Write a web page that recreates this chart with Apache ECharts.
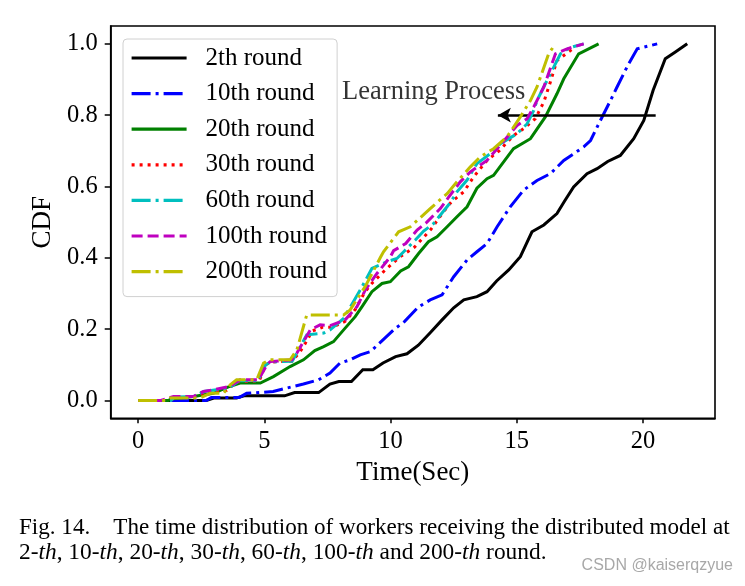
<!DOCTYPE html>
<html>
<head>
<meta charset="utf-8">
<script src="https://cdn.jsdelivr.net/npm/echarts@6/dist/echarts.min.js"></script>
<style>
html,body{margin:0;padding:0;background:#fff;}
#chart{width:745px;height:586px;}
</style>
</head>
<body>
<div id="chart"></div>
<script>
// ---------- data ----------
const seriesNames = ['2th round','10th round','20th round','30th round','60th round','100th round','200th round'];
const xTicks = [0,5,10,15,20];
const yTicks = [0,0.2,0.4,0.6,0.8,1.0];

const round2 = [[0,0],[2.7,0],[3.0,0.007],[3.9,0.007],[4.2,0.013],[5.8,0.013],[6.2,0.022],[7.15,0.022],[7.6,0.046],[7.95,0.053],[8.45,0.053],[8.9,0.086],[9.3,0.086],[9.7,0.105],[10.2,0.123],[10.65,0.131],[11.1,0.155],[11.57,0.19],[12.04,0.226],[12.5,0.26],[12.9,0.282],[13.42,0.291],[13.82,0.305],[14.2,0.335],[14.68,0.366],[15.14,0.403],[15.6,0.473],[16.07,0.492],[16.59,0.524],[16.9,0.56],[17.25,0.599],[17.78,0.636],[18.18,0.65],[18.6,0.67],[19.1,0.687],[19.63,0.734],[20.03,0.785],[20.4,0.87],[20.88,0.958],[21.28,0.977],[21.75,1.0]];
const round10 = [[0,0],[2.7,0],[2.9,0.008],[4.0,0.008],[4.3,0.02],[5.35,0.025],[5.9,0.035],[6.55,0.046],[7.15,0.058],[7.6,0.077],[8.0,0.105],[8.4,0.114],[8.8,0.128],[9.2,0.137],[9.7,0.17],[10.15,0.2],[10.55,0.221],[11.1,0.262],[11.57,0.282],[12.04,0.296],[12.5,0.347],[13.03,0.394],[13.42,0.417],[13.82,0.44],[14.22,0.487],[14.74,0.543],[15.27,0.59],[15.8,0.617],[16.33,0.636],[16.86,0.673],[17.65,0.711],[17.92,0.729],[18.31,0.785],[18.71,0.841],[18.97,0.879],[19.4,0.94],[19.77,0.986],[20.56,1.0]];
const round20 = [[0,0],[1.2,0],[1.3,0.004],[2.2,0.011],[2.98,0.02],[3.65,0.04],[4.04,0.049],[4.84,0.049],[5.36,0.067],[6.02,0.095],[6.55,0.114],[7.0,0.14],[7.35,0.151],[7.74,0.165],[8.14,0.198],[8.6,0.235],[8.87,0.263],[9.26,0.305],[9.66,0.328],[9.99,0.333],[10.4,0.363],[10.71,0.375],[11.11,0.412],[11.5,0.445],[11.84,0.459],[12.24,0.487],[12.63,0.515],[13.03,0.543],[13.42,0.595],[13.82,0.622],[14.08,0.631],[14.87,0.706],[15.54,0.734],[16.13,0.795],[16.59,0.86],[16.86,0.902],[17.45,0.972],[18.24,1.0]];
const round30 = [[0,0],[1.3,0],[1.45,0.008],[2.3,0.01],[2.6,0.022],[3.5,0.028],[3.9,0.052],[4.8,0.055],[5.05,0.1],[5.3,0.108],[6.1,0.11],[6.4,0.135],[6.62,0.16],[6.9,0.195],[7.3,0.205],[7.7,0.205],[8.2,0.222],[8.6,0.255],[8.95,0.3],[9.2,0.324],[9.79,0.366],[10.38,0.403],[10.95,0.43],[11.6,0.48],[12.0,0.52],[12.4,0.556],[12.9,0.585],[13.29,0.627],[13.82,0.673],[14.3,0.7],[14.87,0.743],[15.27,0.762],[15.73,0.79],[16.07,0.837],[16.33,0.893],[16.59,0.953],[17.12,0.981],[17.3,0.99]];
const round60 = [[0,0],[1.3,0],[1.45,0.01],[2.2,0.011],[2.6,0.025],[3.6,0.035],[4.0,0.055],[4.75,0.055],[5.05,0.1],[5.25,0.108],[6.1,0.11],[6.3,0.135],[6.68,0.184],[7.35,0.189],[7.61,0.198],[8.14,0.23],[8.47,0.27],[8.8,0.31],[9.26,0.37],[9.86,0.389],[10.25,0.398],[10.52,0.417],[10.98,0.45],[11.31,0.475],[11.7,0.496],[12.37,0.555],[12.63,0.585],[13.03,0.618],[13.42,0.664],[13.95,0.692],[14.35,0.72],[15.01,0.748],[15.41,0.776],[15.67,0.813],[15.8,0.841],[16.33,0.916],[16.73,0.972],[17.12,0.99],[17.65,1.0]];
const round100 = [[0,0],[0.9,0],[1.4,0.011],[2.19,0.011],[2.59,0.025],[2.98,0.03],[3.65,0.04],[4.04,0.058],[4.77,0.058],[5.1,0.1],[5.23,0.109],[6.09,0.114],[6.29,0.133],[6.82,0.198],[7.21,0.212],[7.61,0.21],[8.2,0.226],[8.67,0.263],[9.0,0.31],[9.46,0.356],[9.99,0.403],[10.12,0.42],[10.6,0.44],[11.05,0.478],[11.44,0.5],[11.97,0.538],[12.3,0.57],[12.76,0.613],[13.16,0.641],[13.82,0.673],[14.22,0.706],[15.01,0.771],[15.41,0.79],[15.67,0.823],[16.07,0.879],[16.53,0.972],[16.99,0.986],[17.65,1.0]];
const round200 = [[0,0],[1.1,0],[1.27,0.007],[2.46,0.007],[2.85,0.02],[3.38,0.02],[3.65,0.044],[3.9,0.058],[4.7,0.058],[4.97,0.105],[5.23,0.114],[6.02,0.114],[6.29,0.142],[6.68,0.24],[8.14,0.24],[8.4,0.254],[9.0,0.32],[9.59,0.4],[9.72,0.417],[10.32,0.473],[10.78,0.487],[11.57,0.538],[12.24,0.58],[12.63,0.613],[13.16,0.655],[13.55,0.683],[14.08,0.706],[14.61,0.739],[15.14,0.795],[15.54,0.841],[15.8,0.879],[16.26,0.972],[16.53,1.0]];

const annotText = 'Learning Process';
const annotPos = [8.08, 0.866];
const arrowFrom = [20.5, 0.8];
const arrowTo = [14.25, 0.8];

const xTitle = 'Time(Sec)';
const yTitle = 'CDF';
const caption1 = 'Fig. 14.    The time distribution of workers receiving the distributed model at';
const caption2 = '2-{i|th}, 10-{i|th}, 20-{i|th}, 30-{i|th}, 60-{i|th}, 100-{i|th} and 200-{i|th} round.';
const watermark = 'CSDN @kaiserqzyue';

// ---------- chart ----------
const serif = '"Liberation Serif", "DejaVu Serif", serif';
const allData = [round2, round10, round20, round30, round60, round100, round200];
const colors = ['#000000','#0000ff','#008000','#ff0000','#00bfbf','#bf00bf','#bfbf00'];
const dashes = ['solid',[19,5,3,5],'solid',[3,5],[19,5,3,5],[11,5],[19,5,3,5]];

const series = allData.map((d, i) => ({
  name: seriesNames[i],
  type: 'line',
  data: d,
  symbol: 'none',
  showSymbol: false,
  smooth: false,
  lineStyle: { color: colors[i], width: 3, type: dashes[i], cap: 'butt', join: 'miter' },
  itemStyle: { color: colors[i] },
  z: 2 + i
}));

series.push({
  name: 'annot',
  type: 'scatter',
  data: [annotPos],
  symbolSize: 0,
  silent: true,
  label: {
    show: true, position: 'right', distance: 0,
    formatter: annotText,
    fontFamily: serif, fontSize: 26.5, color: '#000'
  },
  markLine: {
    silent: true,
    symbol: ['none', 'arrow'],
    symbolSize: [11, 13],
    label: { show: false },
    lineStyle: { color: '#000', width: 2.5, type: 'solid' },
    data: [[{ coord: arrowFrom }, { coord: arrowTo }]]
  },
  z: 20
});

const chart = echarts.init(document.getElementById('chart'), null, { renderer: 'canvas' });
chart.setOption({
  animation: false,
  backgroundColor: '#fff',
  grid: {
    left: 110.7, right: 30, top: 26, bottom: 167.7,
    show: true, borderColor: '#000', borderWidth: 1.6, backgroundColor: 'transparent'
  },
  legend: {
    data: seriesNames,
    orient: 'vertical',
    left: 123, top: 39,
    itemWidth: 55, itemHeight: 14,
    itemGap: 7.6,
    padding: [5, 10, 11, 7],
    backgroundColor: 'rgba(255,255,255,0.8)',
    borderColor: '#d0d0d0', borderWidth: 1, borderRadius: 4,
    itemStyle: { opacity: 0 },
    lineStyle: { width: 3.2, cap: 'butt' },
    textStyle: { fontFamily: serif, fontSize: 25, color: '#000', lineHeight: 28, padding: [0,0,0,14] },
    selectedMode: false
  },
  xAxis: {
    type: 'value', min: -1.085, max: 22.85,
    name: xTitle, nameLocation: 'middle', nameGap: 35,
    nameTextStyle: { fontFamily: serif, fontSize: 27, color: '#000' },
    axisLine: { show: true, onZero: false, lineStyle: { color: '#000', width: 1.6 } },
    axisTick: { show: true, inside: false, length: 5, customValues: xTicks, lineStyle: { color: '#000', width: 1.5 } },
    axisLabel: { customValues: xTicks, margin: 11, fontFamily: serif, fontSize: 24.5, color: '#000' },
    splitLine: { show: false }
  },
  yAxis: {
    type: 'value', min: -0.05, max: 1.05,
    name: yTitle, nameLocation: 'middle', nameGap: 52,
    nameTextStyle: { fontFamily: serif, fontSize: 27, color: '#000' },
    axisLine: { show: true, onZero: false, lineStyle: { color: '#000', width: 1.6 } },
    axisTick: { show: true, inside: false, length: 6, customValues: yTicks, lineStyle: { color: '#000', width: 1.5 } },
    axisLabel: { customValues: yTicks, margin: 13, fontFamily: serif, fontSize: 24.5, color: '#000',
      formatter: v => v.toFixed(1) },
    splitLine: { show: false }
  },
  graphic: [
    { type: 'text', left: 19, top: 516, style: { text: caption1, font: '23.1px ' + serif, fill: '#000' } },
    { type: 'text', left: 19, top: 541, style: { text: caption2, font: '23.4px ' + serif, fill: '#000',
        rich: { i: { fontStyle: 'italic', fontFamily: serif, fontSize: 23.4, fill: '#000' } } } },
    { type: 'text', right: 12, top: 558, style: { text: watermark, font: '16px "Liberation Sans", Arial, sans-serif', fill: '#a8a8a8' } }
  ],
  series: series
});
</script>
</body>
</html>
